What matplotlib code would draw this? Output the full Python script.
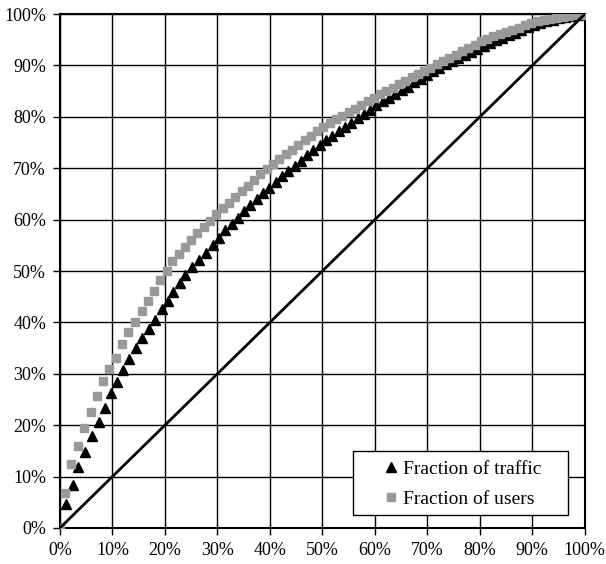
import matplotlib.pyplot as plt
from matplotlib.patches import Rectangle
from matplotlib.ticker import FuncFormatter, MultipleLocator

plt.rcParams.update({
    'font.family': ['Liberation Serif', 'DejaVu Serif'],
    'font.size': 13,
})

# fraction of traffic (x %, y %)
traffic_x = [0, 1.1, 2.4, 3.4, 4.7, 6.1, 7.4, 8.6, 9.7, 10.8, 12.1, 13.1, 14.4,
             15.7, 17.0, 18.1, 19.4, 20.5, 21.6, 22.9, 23.9, 25.2, 26.4, 27.9,
             29.1, 30.3, 31.5, 32.7, 33.9, 35.1, 36.3, 37.5, 38.7, 39.9, 41.1,
             42.3, 43.5, 44.7, 45.9, 47.1, 48.3, 49.5, 50.7, 51.9, 53.1, 54.3,
             55.5, 56.7, 57.9, 59.1, 60.3, 61.5, 62.7, 63.9, 65.1, 66.3, 67.5,
             68.7, 69.9, 71.1, 72.3, 73.5, 74.7, 75.9, 77.1, 78.3, 79.5, 80.7,
             81.9, 83.1, 84.3, 85.5, 86.7, 87.9, 89.1, 90.3, 91.5, 92.7, 93.9,
             95.1, 96.3, 97.5, 98.7, 100]
traffic_y = [0, 4.6, 8.4, 11.9, 14.8, 17.9, 20.7, 23.4, 26.2, 28.3, 30.7, 32.9,
             35.0, 37.0, 38.7, 40.5, 42.6, 44.2, 45.9, 47.7, 49.2, 50.8, 52.1,
             53.6, 55.0, 56.5, 57.9, 59.2, 60.4, 61.6, 62.8, 64.0, 65.1, 66.2,
             67.3, 68.4, 69.5, 70.5, 71.5, 72.5, 73.5, 74.5, 75.4, 76.3, 77.2,
             78.1, 78.9, 79.7, 80.5, 81.3, 82.3, 83.0, 83.7, 84.5, 85.2, 85.9,
             86.7, 87.4, 88.2, 88.9, 89.5, 90.2, 90.8, 91.4, 92.0, 92.6, 93.2,
             93.8, 94.3, 94.9, 95.4, 95.9, 96.4, 96.9, 97.4, 97.8, 98.2, 98.6,
             98.9, 99.2, 99.5, 99.7, 99.9, 100]

# fraction of users
users_x = [0, 0.95, 2.1, 3.4, 4.5, 5.9, 7.1, 8.2, 9.4, 10.7, 11.8, 13.0, 14.2,
           15.6, 16.8, 18.0, 19.1, 20.3, 21.4, 22.6, 23.8, 25.0, 26.2, 27.4,
           28.6, 29.8, 31.0, 32.2, 33.4, 34.6, 35.8, 37.0, 38.2, 39.4, 40.6,
           41.8, 43.0, 44.2, 45.4, 46.6, 47.8, 49.0, 50.2, 51.4, 52.6, 53.8,
           55.0, 56.2, 57.4, 58.6, 59.8, 61.0, 62.2, 63.4, 64.6, 65.8, 67.0,
           68.2, 69.4, 70.6, 71.8, 73.0, 74.2, 75.4, 76.6, 77.8, 79.0, 80.2,
           81.4, 82.6, 83.8, 85.0, 86.2, 87.4, 88.6, 89.8, 91.0, 92.2, 93.4,
           94.6, 95.8, 97.0, 98.2, 99.4, 100]
users_y = [0, 6.8, 12.5, 16.0, 19.5, 22.6, 25.7, 28.5, 30.9, 33.1, 35.7, 38.1,
           40.1, 42.2, 44.2, 46.2, 48.2, 50.0, 51.9, 53.3, 54.6, 56.0, 57.3,
           58.6, 59.8, 61.1, 62.2, 63.3, 64.4, 65.5, 66.6, 67.7, 68.8, 69.9,
           70.9, 71.8, 72.7, 73.6, 74.5, 75.4, 76.3, 77.2, 78.0, 78.8, 79.5,
           80.2, 80.9, 81.6, 82.3, 83.0, 83.7, 84.4, 85.0, 85.7, 86.3, 87.0,
           87.7, 88.3, 89.0, 89.6, 90.2, 90.9, 91.5, 92.1, 92.8, 93.4, 94.0,
           94.7, 95.2, 95.7, 96.1, 96.5, 96.9, 97.3, 97.8, 98.3, 98.7, 98.9,
           99.1, 99.3, 99.5, 99.7, 99.8, 99.9, 100]

fig = plt.figure(figsize=(6.06, 5.64), dpi=100)
ax = fig.add_axes([0.099, 0.064, 0.866, 0.911])

# diagonal of equality
ax.plot([0, 100], [0, 100], color='black', lw=2, zorder=4)

ax.plot(traffic_x, traffic_y, ls='none', marker='^', ms=7.5, color='black',
        mec='black', label='Fraction of traffic', zorder=2)
ax.plot(users_x, users_y, ls='none', marker='s', ms=5.5, color='#999999',
        mec='#999999', label='Fraction of users', zorder=3)

ax.set_xlim(0, 100)
ax.set_ylim(0, 100)
ax.xaxis.set_major_locator(MultipleLocator(10))
ax.yaxis.set_major_locator(MultipleLocator(10))
pct = FuncFormatter(lambda v, p: f'{v:.0f}%')
ax.xaxis.set_major_formatter(pct)
ax.yaxis.set_major_formatter(pct)
ax.tick_params(direction='out', length=5, width=1, color='black', pad=5,
               labelsize=13)

ax.grid(True, color='black', lw=1)
ax.set_axisbelow(True)
for s in ax.spines.values():
    s.set_color('black')
    s.set_linewidth(1.5)

# legend box (white, black border) with entries placed inside
ax.add_patch(Rectangle((0.558, 0.025), 0.41, 0.125, transform=ax.transAxes,
                       facecolor='white', edgecolor='black', lw=1, zorder=5))
leg = ax.legend(loc='center left', bbox_to_anchor=(0.613, 0.085),
                borderaxespad=0, borderpad=0, frameon=False, fontsize=14,
                handlelength=1.0, handletextpad=0.1, labelspacing=0.65)
leg.set_zorder(6)

plt.savefig('out.png', dpi=100)
